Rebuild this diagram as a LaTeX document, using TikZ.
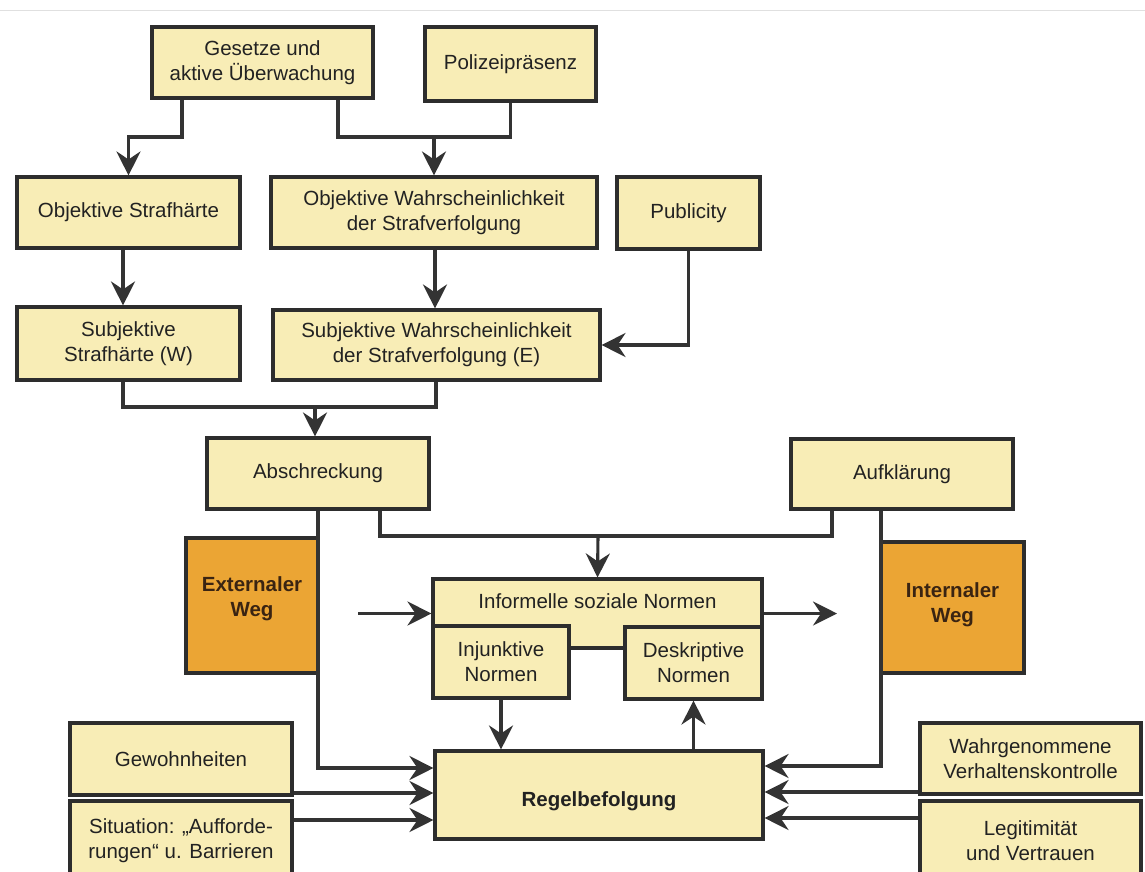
\documentclass[tikz,border=0pt]{standalone}
\usepackage{fontspec}
\setmainfont{Liberation Sans}
\usetikzlibrary{arrows.meta,calc}
\definecolor{boxfill}{HTML}{F8EDB6}
\definecolor{orfill}{HTML}{EBA534}
\definecolor{edge}{HTML}{2D2D2D}
\definecolor{conn}{HTML}{333333}
\definecolor{txt}{HTML}{222222}
\definecolor{wegtxt}{HTML}{3A2412}
\begin{document}
\begin{tikzpicture}[x=1pt,y=-1pt,
  box/.style={draw=edge, line width=3.1pt, fill=boxfill, align=center, inner sep=0pt, text=txt, font=\fontsize{20.5}{25}\selectfont},
  wh/.style 2 args={minimum width=#1pt, minimum height=#2pt},
  wegbox/.style={box, fill=orfill, text=wegtxt, font=\fontsize{20.5}{25}\selectfont\bfseries},
  conline/.style={draw=conn, line width=3.1pt},
  arr/.style={conline, -{Stealth[length=24pt,width=24pt,inset=8pt]}},
]
\clip (0,0) rectangle (1145,871);
\fill[white] (0,0) rectangle (1145,871);
\draw[black!12, line width=1pt] (0,10) -- (1145,10);

% nodes
\node[box, wh={221}{71}] (ges) at (262.5,62.5) {Gesetze und\\aktive Überwachung};
\node[box, wh={171}{74}] (pol) at (510.5,64) {Polizeipräsenz};
\node[box, wh={223}{71}] (objS) at (128.5,212.5) {Objektive Strafhärte};
\node[box, wh={326}{71}] (objW) at (434,212.5) {Objektive Wahrscheinlichkeit\\der Strafverfolgung};
\node[box, wh={143}{72}] (pub) at (688.5,213) {Publicity};
\node[box, wh={223}{73}] (subS) at (128.5,343.5) {Subjektive\\Strafhärte (W)};
\node[box, wh={327}{70}] (subW) at (436.5,345) {Subjektive Wahrscheinlichkeit\\der Strafverfolgung (E)};
\node[box, wh={222}{71}] (absch) at (318,473.5) {Abschreckung};
\node[box, wh={222}{70}] (aufk) at (902,474) {Aufklärung};
\node[wegbox, wh={132}{135}] (ext) at (252,605.5) {Externaler\\Weg\\[-7pt]};
\node[wegbox, wh={143}{131}] (int) at (952.5,607.5) {Internaler\\Weg\\[-15pt]};
\node[box, wh={329}{69}, text height=14pt, text depth=24pt] (inf) at (597.5,613.5) {Informelle soziale Normen};
\node[box, wh={136}{72}] (inj) at (501,662) {Injunktive\\Normen};
\node[box, wh={137}{72}] (desk) at (693.5,663) {Deskriptive\\Normen};
\node[box, wh={328}{88}, text height=26pt, text depth=4pt, font=\fontsize{20.5}{25}\selectfont\bfseries] (regel) at (599,795) {Regelbefolgung};
\node[box, wh={222}{72}] (gew) at (181,759) {Gewohnheiten};
\node[box, wh={222}{80}] (sit) at (181,841) {Situation: „Aufforde-\\rungen“ u. Barrieren};
\node[box, wh={221}{71}] (wahr) at (1030.5,758.5) {Wahrgenommene\\Verhaltenskontrolle};
\node[box, wh={221}{80}] (leg) at (1030.5,841) {Legitimität\\und Vertrauen};

% junction points
\coordinate (j1) at (128.5,137);
\coordinate (j2) at (434,137);
\coordinate (j3) at (315,407);
\coordinate (j4) at (598,536);
\coordinate (inL) at (358,613.5);
\coordinate (inR) at (837,613.5);

% connectors
\draw[arr] (182,0 |- ges.south) |- (j1) -- (objS.north);
\draw[conline] (338,0 |- ges.south) -- (338,137) -- (pol.south |- 0,137) -- (pol.south);
\draw[arr] (j2) -- (objW.north);
\draw[arr] (123,0 |- objS.south) -- (123,0 |- subS.north);
\draw[arr] (435,0 |- objW.south) -- (435,0 |- subW.north);
\draw[arr] (pub.south) |- (subW.east);
\draw[conline] (123,0 |- subS.south) -- (123,407) -- (436,407) -- (436,0 |- subW.south);
\draw[arr] (j3) -- (315,0 |- absch.north);
\draw[arr] (absch.south) |- (regel.west |- 0,768);
\draw[conline] (380,0 |- absch.south) -- (380,536) -- (832,536) -- (832,0 |- aufk.south);
\draw[arr] (j4) -- (inf.north);
\draw[arr] (881,0 |- aufk.south) |- (regel.east |- 0,766);
\draw[arr] (inL) -- (inf.west);
\draw[arr] (inf.east) -- (inR);
\draw[arr] (inj.south) -- (inj.south |- regel.north);
\draw[arr] (desk.south |- regel.north) -- (desk.south);
\draw[arr] (gew.east |- 0,793) -- (regel.west |- 0,793);
\draw[arr] (sit.east |- 0,820) -- (regel.west |- 0,820);
\draw[arr] (wahr.west |- 0,792) -- (regel.east |- 0,792);
\draw[arr] (leg.west |- 0,818) -- (regel.east |- 0,818);
\end{tikzpicture}
\end{document}
